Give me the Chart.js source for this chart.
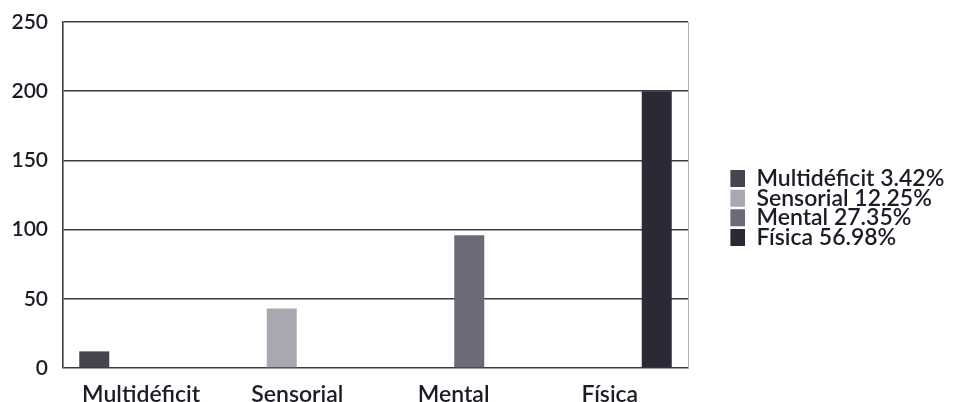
<!DOCTYPE html>
<html>
<head>
<meta charset="utf-8">
<script src="https://cdn.jsdelivr.net/npm/chart.js@4.4.1/dist/chart.umd.min.js"></script>
<style>
  html, body { margin: 0; padding: 0; background: #ffffff; }
  #wrap { width: 954px; height: 402px; position: relative; }
</style>
</head>
<body>
<div id="wrap"><canvas id="c"></canvas></div>
<script>
// ---- data ----
const categories = ['Multidéficit', 'Sensorial', 'Mental', 'Física'];
const counts = [12, 43, 96, 200];
const legendLabels = ['Multidéficit 3.42%', 'Sensorial 12.25%', 'Mental 27.35%', 'Física 56.98%'];
const seriesColors = ['#46444f', '#a9a8b1', '#6d6979', '#2b2935'];
const yTicks = [0, 50, 100, 150, 200, 250];

const FONT = 'Lato, "Open Sans", sans-serif';
const WEIGHT = '600';
const TEXT = '#1c1c26';
const LEGEND_PAD = -3.4;
const RIGHT_GAP = 42.4;
const LEGEND_W = 954 - 688 - RIGHT_GAP;
const LEGEND_SHIFT = -4;

const datasets = legendLabels.map((lab, i) => ({
  label: lab,
  data: categories.map((c, j) => (j === i ? counts[i] : null)),
  backgroundColor: seriesColors[i],
  borderWidth: 0,
  categoryPercentage: 0.8,
  barPercentage: 0.96
}));

const legendFitPlugin = {
  id: 'legendFit',
  beforeLayout(chart) {
    const lg = chart.legend;
    if (lg && !lg._fixedW) {
      const orig = lg.fit.bind(lg);
      lg.fit = function () { orig(); this.width = LEGEND_W; };
      lg._fixedW = true;
    }
  },
  afterLayout(chart) {
    const lg = chart.legend;
    if (lg) { lg.top += LEGEND_SHIFT; lg.bottom += LEGEND_SHIFT; }
  }
};

function noVPad(scale) { scale.paddingTop = 0; scale.paddingBottom = 0; }

new Chart(document.getElementById('c'), {
  type: 'bar',
  data: { labels: categories, datasets },
  plugins: [legendFitPlugin],
  options: {
    responsive: true,
    maintainAspectRatio: false,
    animation: false,
    layout: { padding: { top: 22, left: 0, right: 0, bottom: 0 } },
    plugins: {
      tooltip: { enabled: false },
      legend: {
        position: 'right',
        align: 'center',
        labels: {
          boxWidth: 18,
          boxHeight: 17,
          padding: LEGEND_PAD,
          color: TEXT,
          font: { family: FONT, size: 23, weight: WEIGHT }
        }
      }
    },
    scales: {
      x: {
        grid: { display: false, drawTicks: false },
        border: { display: false },
        ticks: { color: TEXT, font: { family: FONT, size: 23, weight: WEIGHT }, padding: 13 },
        afterFit(scale) { scale.height = 34; }
      },
      y: {
        min: yTicks[0],
        max: yTicks[yTicks.length - 1],
        afterBuildTicks(scale) { scale.ticks = yTicks.map(v => ({ value: v })); },
        ticks: { color: TEXT, font: { family: FONT, size: 21, weight: WEIGHT }, padding: 15 },
        grid: { color: '#3a3a44', lineWidth: 1.6, drawTicks: false },
        border: { display: true, color: '#3a3a44', width: 1.6 },
        afterFit(scale) { scale.width = 63; noVPad(scale); }
      },
      yRight: {
        position: 'right',
        display: true,
        min: 0, max: 250,
        grid: { display: false, drawTicks: false },
        ticks: { display: false },
        border: { display: true, color: '#b0b0b8', width: 1 },
        afterFit(scale) { scale.width = RIGHT_GAP; noVPad(scale); }
      }
    }
  }
});
</script>
</body>
</html>
